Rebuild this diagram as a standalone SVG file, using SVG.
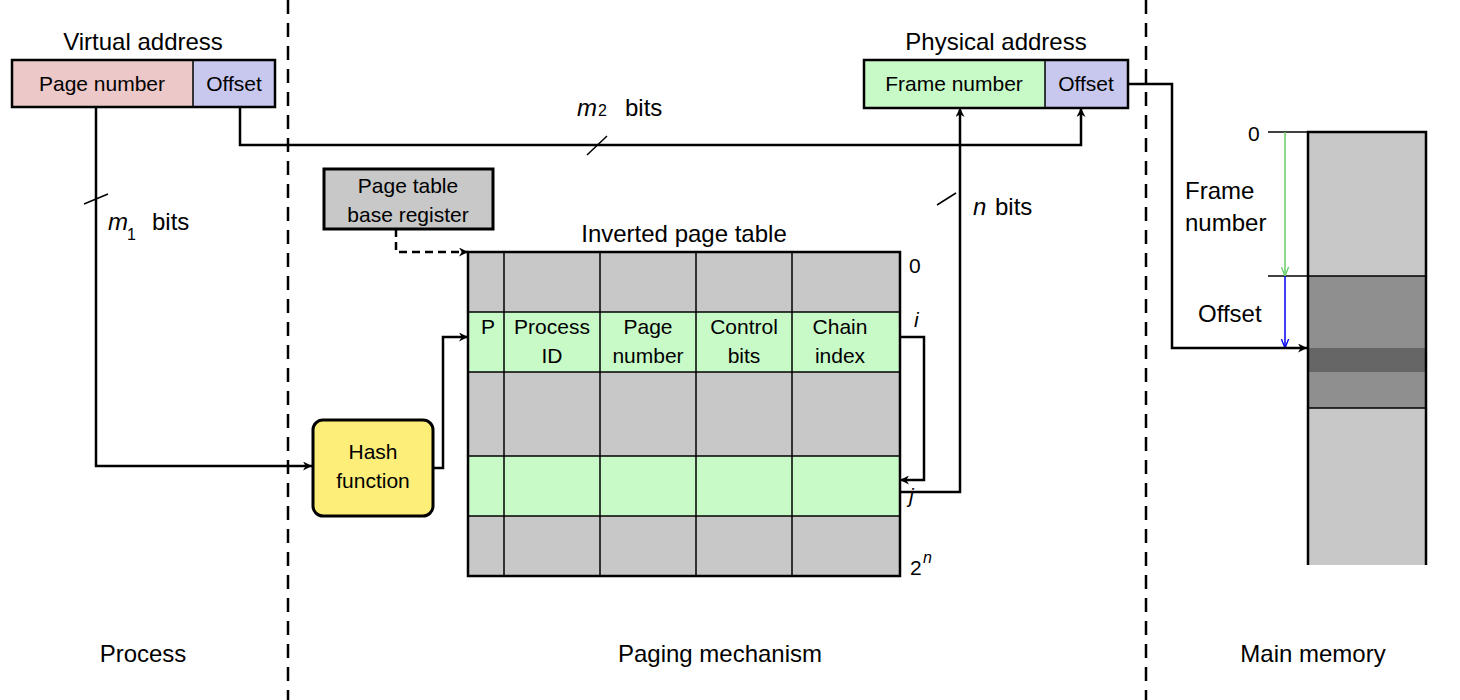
<svg xmlns="http://www.w3.org/2000/svg" width="1460" height="700" viewBox="0 0 1460 700">
<defs>
<marker id="ah" viewBox="0 0 10 10" refX="10" refY="5" markerWidth="9" markerHeight="9" markerUnits="userSpaceOnUse" orient="auto"><path d="M0,0 L10,5 L0,10 L3,5 z" fill="#000"/></marker>
<marker id="ahg" viewBox="0 0 10 10" refX="10" refY="5" markerWidth="9" markerHeight="9" markerUnits="userSpaceOnUse" orient="auto"><path d="M0,1 L10,5 L0,9" fill="none" stroke="#66cc66" stroke-width="1.5"/></marker>
<marker id="ahb" viewBox="0 0 10 10" refX="10" refY="5" markerWidth="9" markerHeight="9" markerUnits="userSpaceOnUse" orient="auto"><path d="M0,1 L10,5 L0,9" fill="none" stroke="#0000ee" stroke-width="1.5"/></marker>
<style>
text{font-family:"Liberation Sans",Arial,sans-serif;fill:#000}
.t{font-size:24px}.b{font-size:21px}.c{text-anchor:middle}
.ln{fill:none;stroke:#000;stroke-width:2.5}
.dv{stroke:#000;stroke-width:2.5;stroke-dasharray:14,9}
.thin{stroke:#000;stroke-width:1.5}
.gr{fill:#c8c8c8}.gn{fill:#c8fac8}
</style>
</defs>
<line class="dv" x1="288" y1="0" x2="288" y2="700"/>
<line class="dv" x1="1146" y1="0" x2="1146" y2="700"/>
<g id="virtual-address">
<text class="t c" x="143" y="50">Virtual address</text>
<rect x="12" y="60" width="181" height="47" fill="#ecc8c8"/>
<rect x="193" y="60" width="82" height="47" fill="#c8c8ee"/>
<line class="thin" x1="193" y1="60" x2="193" y2="107"/>
<rect x="12" y="60" width="263" height="47" class="ln" stroke-width="3"/>
<text class="b c" x="102" y="91">Page number</text>
<text class="b c" x="234" y="91">Offset</text>
</g>
<g id="physical-address">
<text class="t c" x="996" y="50">Physical address</text>
<rect x="864" y="60" width="181" height="48" fill="#c8fac8"/>
<rect x="1045" y="60" width="83" height="48" fill="#c8c8ee"/>
<line class="thin" x1="1045" y1="60" x2="1045" y2="108"/>
<rect x="864" y="60" width="264" height="48" class="ln" stroke-width="3"/>
<text class="b c" x="954" y="91">Frame number</text>
<text class="b c" x="1086" y="91">Offset</text>
</g>
<g id="ptbr">
<rect x="324" y="169" width="169" height="60" class="gr" stroke="#000" stroke-width="3"/>
<text class="b c" x="408" y="193">Page table</text>
<text class="b c" x="408" y="222">base register</text>
</g>
<g id="hash">
<rect x="313" y="420" width="120" height="96" rx="10" fill="#fcee79" stroke="#000" stroke-width="3"/>
<text class="b c" x="373" y="459">Hash</text>
<text class="b c" x="373" y="488">function</text>
</g>
<g id="inverted-page-table">
<text class="t c" x="684" y="242">Inverted page table</text>
<rect x="468" y="252" width="432" height="60" class="gr"/>
<rect x="468" y="312" width="432" height="60" class="gn"/>
<rect x="468" y="372" width="432" height="84" class="gr"/>
<rect x="468" y="456" width="432" height="60" class="gn"/>
<rect x="468" y="516" width="432" height="60" class="gr"/>
<g class="thin">
<line x1="468" y1="312" x2="900" y2="312"/><line x1="468" y1="372" x2="900" y2="372"/>
<line x1="468" y1="456" x2="900" y2="456"/><line x1="468" y1="516" x2="900" y2="516"/>
<line x1="504" y1="252" x2="504" y2="576"/><line x1="600" y1="252" x2="600" y2="576"/>
<line x1="696" y1="252" x2="696" y2="576"/><line x1="792" y1="252" x2="792" y2="576"/>
</g>
<rect x="468" y="252" width="432" height="324" class="ln" stroke-width="3"/>
<text class="b c" x="488" y="334">P</text>
<text class="b c" x="552" y="334">Process</text><text class="b c" x="552" y="363">ID</text>
<text class="b c" x="648" y="334">Page</text><text class="b c" x="648" y="363">number</text>
<text class="b c" x="744" y="334">Control</text><text class="b c" x="744" y="363">bits</text>
<text class="b c" x="840" y="334">Chain</text><text class="b c" x="840" y="363">index</text>
<text class="b" x="909" y="273">0</text>
<text class="b" x="914" y="327" font-style="italic">i</text>
<text class="b" x="909" y="503" font-style="italic">j</text>
<text class="b" x="910" y="575">2</text><text x="923" y="563" font-size="16" font-style="italic">n</text>
</g>
<g id="main-memory">
<rect x="1308" y="132" width="118" height="144" fill="#c8c8c8"/>
<rect x="1308" y="276" width="118" height="72" fill="#8f8f8f"/>
<rect x="1308" y="348" width="118" height="24" fill="#666"/>
<rect x="1308" y="372" width="118" height="36" fill="#8f8f8f"/>
<rect x="1308" y="408" width="118" height="157" fill="#c8c8c8"/>
<line class="thin" x1="1268" y1="276" x2="1426" y2="276"/>
<line class="thin" x1="1308" y1="408" x2="1426" y2="408"/>
<line class="thin" x1="1268" y1="132" x2="1308" y2="132"/>
<path class="ln" stroke-width="3" d="M1308,565 V132 H1426 V565"/>
<text class="b" x="1248" y="141">0</text>
<text class="t" x="1185" y="199">Frame</text>
<text class="t" x="1185" y="231">number</text>
<text class="t" x="1198" y="322">Offset</text>
<line x1="1285" y1="132" x2="1285" y2="276" stroke="#66cc66" stroke-width="1.5" marker-end="url(#ahg)"/>
<line x1="1285" y1="276" x2="1285" y2="348" stroke="#0000ee" stroke-width="1.5" marker-end="url(#ahb)"/>
</g>
<g id="connectors">
<path class="ln" d="M96,107 V466 H312" marker-end="url(#ah)"/>
<path class="ln" d="M240,107 V145 H1081 V108" marker-end="url(#ah)"/>
<path class="ln" d="M396,229 V252 H468" stroke-dasharray="8,5" marker-end="url(#ah)"/>
<path class="ln" d="M433,468 H443 V337 H468" marker-end="url(#ah)"/>
<path class="ln" d="M900,337 H924 V480 H900" marker-end="url(#ah)"/>
<path class="ln" d="M900,492 H960 V108" marker-end="url(#ah)"/>
<path class="ln" d="M1128,84 H1172 V348 H1307" marker-end="url(#ah)"/>
<line class="thin" x1="84" y1="204" x2="108" y2="194"/>
<line class="thin" x1="587" y1="155" x2="607" y2="136"/>
<line class="thin" x1="937" y1="205" x2="956" y2="193"/>
<text class="t" x="108" y="230" font-style="italic">m</text><text x="127" y="240" font-size="16">1</text><text class="t" x="152" y="230">bits</text>
<text class="t" x="577" y="116" font-style="italic">m</text><text x="598" y="116" font-size="16">2</text><text class="t" x="625" y="116">bits</text>
<text class="t" x="973" y="215" font-style="italic">n</text><text class="t" x="995" y="215">bits</text>
</g>
<text class="t c" x="143" y="662">Process</text>
<text class="t c" x="720" y="662">Paging mechanism</text>
<text class="t c" x="1313" y="662">Main memory</text>
</svg>
